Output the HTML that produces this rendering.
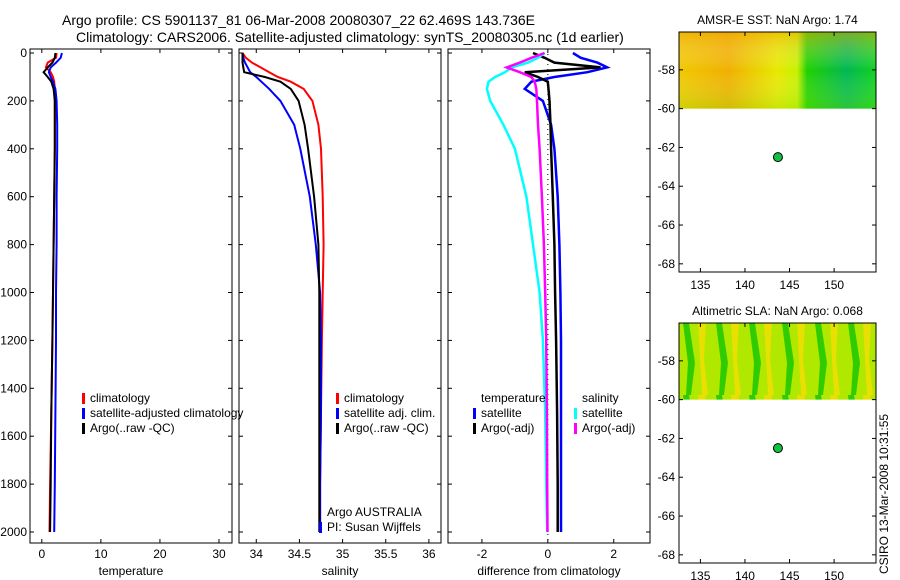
<!DOCTYPE html>
<html><head><meta charset="utf-8"><style>
body{margin:0;background:#fff;}
svg{display:block;font-family:"Liberation Sans",sans-serif;}
</style></head><body>
<svg id="fig" width="900" height="580" viewBox="0 0 900 580" xmlns="http://www.w3.org/2000/svg">
<defs>
<linearGradient id="sstg" x1="0" x2="1" y1="0" y2="0">
<stop offset="0" stop-color="#f0c800"/><stop offset="0.25" stop-color="#f0b000"/><stop offset="0.5" stop-color="#e8e800"/><stop offset="0.6" stop-color="#c8f000"/><stop offset="0.65" stop-color="#20d000"/><stop offset="0.85" stop-color="#00b850"/><stop offset="1" stop-color="#10d020"/>
</linearGradient>
<linearGradient id="sstv" x1="0" x2="0" y1="0" y2="1">
<stop offset="0" stop-color="#f0a000" stop-opacity="0.5"/><stop offset="0.5" stop-color="#fff" stop-opacity="0"/><stop offset="1" stop-color="#80e000" stop-opacity="0.3"/>
</linearGradient>
<pattern id="slap" width="33" height="72" patternUnits="userSpaceOnUse" x="679" y="323">
<rect width="33" height="72" fill="#b0e800"/>
<path d="M4 0 L10 0 L16 40 L12 72 L7 72 L9 40Z" fill="#30cc00"/>
<path d="M19 0 L27 0 L25 36 L29 72 L23 72 L21 36Z" fill="#e8e000"/>
</pattern>
</defs>
<g id="root"></g>
<text x="62" y="25" font-size="14">Argo profile: CS 5901137_81 06-Mar-2008 20080307_22 62.469S 143.736E</text>
<text x="76" y="42" font-size="14">Climatology: CARS2006. Satellite-adjusted climatology: synTS_20080305.nc (1d earlier)</text>
<text transform="translate(888,574) rotate(-90)" font-size="12">CSIRO 13-Mar-2008 10:31:55</text>
</svg>
<script>
// depth grid (m)
const depths=[0,20,40,60,80,100,120,150,200,300,400,600,800,1000,1200,1500,1800,2000];
// temperature (deg C)
const tClim=[2.5,2.4,1.0,0.7,1.5,1.9,2.1,2.2,2.2,2.2,2.2,2.1,2.0,1.9,1.8,1.6,1.4,1.3];
const tSat=[3.4,3.2,2.4,1.5,1.2,1.5,1.9,2.3,2.5,2.6,2.6,2.5,2.5,2.4,2.4,2.3,2.2,2.1];
const tArgo=[2.3,2.2,1.8,1.0,0.3,1.0,1.6,2.0,2.2,2.2,2.2,2.1,2.0,1.9,1.8,1.6,1.5,1.4];
// salinity (psu)
const sClim=[33.84,33.88,33.95,34.05,34.15,34.25,34.4,34.55,34.65,34.72,34.75,34.77,34.78,34.77,34.76,34.75,34.74,34.74];
const sSat=[33.84,33.85,33.87,33.9,33.93,34.0,34.06,34.15,34.28,34.44,34.51,34.62,34.69,34.74,34.75,34.75,34.74,34.74];
const sArgo=[33.84,33.84,33.84,33.85,33.86,34.1,34.28,34.4,34.49,34.56,34.6,34.67,34.72,34.73,34.73,34.73,34.73,34.73];
// differences from climatology
const dTSat=[0.76,1.0,1.5,1.8,1.2,0.2,-0.5,-0.7,-0.15,0.1,0.2,0.3,0.35,0.38,0.4,0.4,0.4,0.4];
const dTArgo=[-0.45,-0.1,0.2,1.6,-0.7,-0.3,0,0.02,0.05,0.08,0.1,0.15,0.2,0.22,0.25,0.28,0.3,0.3];
const dSSat=[-0.1,-0.3,-0.6,-1.1,-1.3,-1.6,-1.8,-1.85,-1.75,-1.35,-1.0,-0.65,-0.45,-0.25,-0.15,-0.08,-0.05,-0.02];
const dSArgo=[-0.1,-0.5,-0.85,-1.25,-0.85,-0.5,-0.4,-0.35,-0.33,-0.3,-0.25,-0.18,-0.12,-0.08,-0.05,-0.03,-0.02,-0.01];
const depthTicks=[0,200,400,600,800,1000,1200,1400,1600,1800,2000];
const tTicks=[0,10,20,30], sTicks=[34,34.5,35,35.5,36], dTicks=[-2,0,2];
const lonTicks=[135,140,145,150], latTicks=[-58,-60,-62,-64,-66,-68];
const argoLon=143.7, argoLat=-62.5;

const NS='http://www.w3.org/2000/svg', root=document.getElementById('root');
function el(t,a,p){const e=document.createElementNS(NS,t);for(const k in a)e.setAttribute(k,a[k]);(p||root).appendChild(e);return e;}
const yD=d=>53+d*0.2395;
const Y0=49,Y1=543;
function panel(name,x0,x1,v0,v1,xt,xlabel,fmt){
  const g=el('g',{});
  
  
  const sx=v=>x0+(v-v0)/(v1-v0)*(x1-x0);
  el('rect',{x:x0,y:Y0,width:x1-x0,height:Y1-Y0,fill:'none',stroke:'#000'},g);
  depthTicks.forEach(d=>{const y=yD(d);el('line',{x1:x0,x2:x0+4,y1:y,y2:y,stroke:'#000'},g);el('line',{x1:x1-4,x2:x1,y1:y,y2:y,stroke:'#000'},g);
    if(name==='temperature-panel'){const t=el('text',{x:x0-3,y:y+4,'text-anchor':'end','font-size':12},g);t.textContent=d;}});
  xt.forEach(v=>{const x=sx(v);el('line',{x1:x,x2:x,y1:Y1,y2:Y1-4,stroke:'#000'},g);el('line',{x1:x,x2:x,y1:Y0,y2:Y0+4,stroke:'#000'},g);
    const t=el('text',{x:x,y:Y1+15,'text-anchor':'middle','font-size':12},g);t.textContent=fmt(v);});
  const l=el('text',{x:(x0+x1)/2,y:Y1+32,'text-anchor':'middle','font-size':12},g);l.textContent=xlabel;
  return {g,sx};
}
function line(p,vals,col,w,name){
  const pts=vals.map((v,i)=>p.sx(v).toFixed(1)+','+yD(depths[i]).toFixed(1)).join(' ');
  const e=el('polyline',{points:pts,fill:'none',stroke:col,'stroke-width':w},p.g);
  
  
}
function legend(g,x,y,items){items.forEach((it,i)=>{const yy=y+i*15;
  if(it[1])el('rect',{x:x,y:yy-9,width:3,height:11,fill:it[1]},g);
  const t=el('text',{x:x+8,y:yy,'font-size':12},g);t.textContent=it[0];});}

const p1=panel('temperature-panel',30,232,-2,32.2,tTicks,'temperature',v=>v);
line(p1,tClim,'#f00',2,'temp-climatology-line');
line(p1,tSat,'#00f',2,'temp-satellite-line');
line(p1,tArgo,'#000',2,'temp-argo-line');
legend(p1.g,82,402,[['climatology','#f00'],['satellite-adjusted climatology','#00f'],['Argo(..raw -QC)','#000']]);

const p2=panel('salinity-panel',239,441,33.8,36.14,sTicks,'salinity',v=>v);
line(p2,sClim,'#f00',2,'sal-climatology-line');
line(p2,sSat,'#00f',2,'sal-satellite-line');
line(p2,sArgo,'#000',2,'sal-argo-line');
legend(p2.g,336,402,[['climatology','#f00'],['satellite adj. clim.','#00f'],['Argo(..raw -QC)','#000']]);
legend(p2.g,319,516,[['Argo AUSTRALIA',null],['PI: Susan Wijffels','#00f']]);

const p3=panel('difference-panel',448,650,-3.03,3.1,dTicks,'difference from climatology',v=>v);
el('line',{x1:p3.sx(0),x2:p3.sx(0),y1:Y0,y2:Y1,stroke:'#000','stroke-dasharray':'1,4'},p3.g);
line(p3,dTSat,'#00f',2.5,'diff-temp-satellite-line');
line(p3,dTArgo,'#000',2.5,'diff-temp-argo-line');
line(p3,dSSat,'#0ff',2.5,'diff-sal-satellite-line');
line(p3,dSArgo,'#f0f',2.5,'diff-sal-argo-line');
legend(p3.g,473,402,[['temperature',null],['satellite','#00f'],['Argo(-adj)','#000']]);
legend(p3.g,574,402,[['salinity',null],['satellite','#0ff'],['Argo(-adj)','#f0f']]);

function map(name,top,title,fill){
  const g=el('g',{});
  
  
  const x0=679,x1=876,lon0=132.6,lon1=154.7;
  const sx=v=>x0+(v-lon0)/(lon1-lon0)*(x1-x0);
  const sy=v=>top+(-56.05-v)*19.4;
  el('rect',{x:x0,y:top,width:x1-x0,height:sy(-60)-top,fill:fill},g);
  if(fill==='url(#sstg)')el('rect',{x:x0,y:top,width:x1-x0,height:sy(-60)-top,fill:'url(#sstv)'},g);
  el('rect',{x:x0,y:top,width:x1-x0,height:240,fill:'none',stroke:'#000'},g);
  lonTicks.forEach(v=>{const x=sx(v);el('line',{x1:x,x2:x,y1:top+240,y2:top+236,stroke:'#000'},g);el('line',{x1:x,x2:x,y1:top,y2:top+4,stroke:'#000'},g);
    const t=el('text',{x:x,y:top+257,'text-anchor':'middle','font-size':12},g);t.textContent=v;});
  latTicks.forEach(v=>{const y=sy(v);el('line',{x1:x0,x2:x0+4,y1:y,y2:y,stroke:'#000'},g);el('line',{x1:x1-4,x2:x1,y1:y,y2:y,stroke:'#000'},g);
    const t=el('text',{x:x0-4,y:y+4,'text-anchor':'end','font-size':12},g);t.textContent=v;});
  const tt=el('text',{x:(x0+x1)/2,y:top-8,'text-anchor':'middle','font-size':12},g);tt.textContent=title;
  const c=el('circle',{cx:sx(argoLon),cy:sy(argoLat),r:4.5,fill:'#10c040',stroke:'#000'},g);
  
  
}
map('sst-map',32,'AMSR-E SST: NaN Argo: 1.74','url(#sstg)');
map('sla-map',323,'Altimetric SLA: NaN Argo: 0.068','url(#slap)');
</script>
</body></html>
